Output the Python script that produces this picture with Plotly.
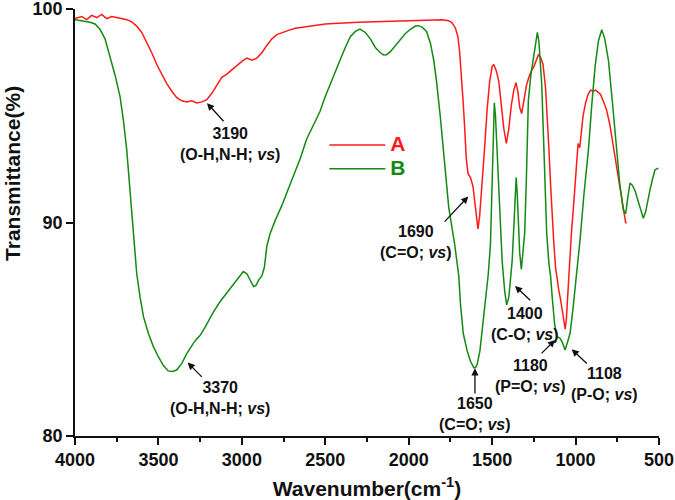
import plotly.graph_objects as go

# ---------------- data ----------------
wavenumber_A = [4000, 3960, 3930, 3900, 3870, 3840, 3810, 3780, 3750, 3720, 3690, 3660, 3630, 3600,
                3570, 3540, 3510, 3480, 3450, 3420, 3390, 3360, 3330, 3300, 3270, 3240, 3210, 3180,
                3150, 3120, 3090, 3060, 3030, 3000, 2970, 2940, 2910, 2880, 2850, 2820, 2790, 2760,
                2720, 2680, 2640, 2600, 2550, 2500, 2450, 2400, 2300, 2200, 2100, 2000, 1900, 1800,
                1760, 1740, 1720, 1705, 1695, 1685, 1675, 1665, 1655, 1645, 1630, 1615, 1600, 1585,
                1575, 1560, 1545, 1530, 1515, 1500, 1490, 1475, 1460, 1445, 1430, 1415, 1400, 1385,
                1370, 1357, 1345, 1335, 1323, 1310, 1295, 1280, 1265, 1250, 1235, 1223, 1210, 1195,
                1180, 1170, 1160, 1150, 1140, 1130, 1120, 1110, 1100, 1090, 1080, 1070, 1062, 1055,
                1045, 1035, 1025, 1010, 995, 985, 975, 968, 955, 940, 925, 910, 895, 880, 865, 850,
                835, 815, 795, 775, 755, 735, 720, 710, 700, 694]
transmittance_A = [99.55, 99.65, 99.5, 99.7, 99.6, 99.75, 99.55, 99.65, 99.6, 99.55, 99.5, 99.4, 99.2, 98.9,
                   98.45, 97.95, 97.4, 96.95, 96.5, 96.15, 95.85, 95.7, 95.65, 95.7, 95.6, 95.65, 95.75, 96.05,
                   96.45, 96.8, 96.95, 97.15, 97.35, 97.55, 97.7, 97.6, 97.7, 97.95, 98.3, 98.6, 98.8, 98.9,
                   99.0, 99.1, 99.15, 99.2, 99.25, 99.3, 99.32, 99.35, 99.38, 99.4, 99.42, 99.45, 99.48, 99.5,
                   99.45, 99.35, 99.1, 98.7, 98.0, 97.0, 95.8, 94.5, 93.0, 92.3, 92.1, 91.7, 90.6, 89.7,
                   90.3, 91.8, 93.5, 95.3, 96.6, 97.3, 97.4, 97.1, 96.6, 95.5, 94.4, 93.7, 94.4, 95.5,
                   96.2, 96.55, 96.1, 95.4, 95.1, 95.7, 96.4, 96.8, 97.1, 97.3, 97.6, 97.85, 97.75, 97.4,
                   96.3, 95.0, 93.5, 91.8, 90.2, 89.0, 87.9, 87.2, 86.8, 86.4, 85.9, 85.2, 85.0, 85.5,
                   87.0, 88.6, 89.5, 91.0, 92.6, 93.7, 93.5, 94.0, 95.0, 95.6, 96.0, 96.2, 96.15, 96.2, 96.1, 96.0,
                   95.7, 95.3, 94.6, 93.6, 92.6, 91.7, 90.9, 90.4, 90.0, 89.97]

wavenumber_B = [4000, 3950, 3910, 3880, 3850, 3820, 3790, 3760, 3730, 3710, 3690, 3675, 3660, 3645,
                3630, 3610, 3590, 3560, 3531, 3500, 3470, 3441, 3415, 3391, 3360, 3331, 3311, 3290,
                3270, 3251, 3220, 3190, 3171, 3130, 3091, 3050, 3020, 2991, 2970, 2950, 2930, 2915,
                2900, 2880, 2865, 2850, 2830, 2800, 2760, 2720, 2690, 2650, 2612, 2570, 2532, 2500,
                2470, 2440, 2412, 2380, 2350, 2320, 2292, 2260, 2230, 2200, 2170, 2150, 2132, 2110,
                2080, 2052, 2020, 1990, 1960, 1943, 1920, 1893, 1870, 1850, 1833, 1810, 1783, 1760,
                1725, 1700, 1690, 1673, 1650, 1630, 1610, 1600, 1590, 1573, 1555, 1540, 1523, 1510,
                1500, 1492, 1487, 1480, 1470, 1460, 1450, 1440, 1425, 1413, 1400, 1390, 1380, 1370,
                1362, 1356, 1350, 1343, 1335, 1325, 1315, 1305, 1295, 1283, 1268, 1253, 1240, 1229,
                1220, 1210, 1203, 1190, 1180, 1173, 1160, 1150, 1140, 1125, 1113, 1100, 1093, 1080,
                1063, 1048, 1033, 1015, 993, 973, 950, 923, 903, 883, 863, 843, 825, 803, 780, 754,
                735, 714, 700, 690, 674, 660, 644, 625, 610, 594, 580, 565, 554, 540, 524, 504]
transmittance_B = [99.5, 99.45, 99.38, 99.3, 99.05, 98.6, 97.8, 96.9, 95.9, 94.8, 93.4, 91.9, 90.3, 88.8,
                   87.6, 86.5, 85.6, 84.8, 84.2, 83.7, 83.3, 83.05, 83.02, 83.09, 83.4, 83.85, 84.12, 84.35,
                   84.55, 84.7, 85.1, 85.55, 85.8, 86.3, 86.7, 87.1, 87.45, 87.7, 87.6, 87.3, 87.0, 87.05,
                   87.3, 87.5, 87.9, 88.9, 89.5, 90.1, 90.8, 91.6, 92.2, 93.0, 93.9, 94.6, 95.2, 95.9,
                   96.5, 97.1, 97.6, 98.2, 98.7, 98.95, 99.06, 98.9, 98.6, 98.2, 97.95, 97.85, 97.86, 98.0,
                   98.3, 98.56, 98.85, 99.05, 99.2, 99.22, 99.15, 98.95, 98.4, 97.6, 96.6, 94.9, 92.6, 90.7,
                   89.0, 87.5, 86.2, 84.8, 84.0, 83.5, 83.2, 83.2, 83.35, 84.0, 85.3, 86.5, 87.6, 89.0,
                   91.5, 94.0, 95.6, 95.0, 93.2, 91.3, 89.5, 88.2, 86.8, 86.14, 86.5, 87.2, 88.2, 89.8,
                   91.5, 92.1, 91.4, 90.0, 88.6, 87.8, 88.5, 89.5, 92.0, 95.7, 96.9, 97.6, 98.4, 98.9,
                   98.5, 97.4, 96.5, 93.5, 90.5, 89.5, 88.1, 87.5, 86.5, 85.2, 84.66, 84.6, 84.58, 84.4,
                   84.03, 84.4, 84.81, 86.0, 87.6, 89.2, 91.3, 93.4, 95.5, 97.3, 98.5, 99.03, 98.6, 97.6, 95.7, 93.4,
                   91.8, 90.6, 90.4, 91.0, 91.85, 91.75, 91.5, 91.0, 90.6, 90.2, 90.5, 91.2, 91.53, 92.0, 92.47, 92.55]

series_names = ["A", "B"]
x_tick_values = [4000, 3500, 3000, 2500, 2000, 1500, 1000, 500]
y_tick_values = [80, 90, 100]

peak_labels = ["3190<br>(O-H,N-H; <i>vs</i>)",
               "3370<br>(O-H,N-H; <i>vs</i>)",
               "1690<br>(C=O; <i>vs</i>)",
               "1400<br>(C-O; <i>vs</i>)",
               "1650<br>(C=O; <i>vs</i>)",
               "1180<br>(P=O; <i>vs</i>)",
               "1108<br>(P-O; <i>vs</i>)"]

# ---------------- layout helpers (positions of labels/arrows in data units) ----------------
label_pos = [(3071, 93.69), (3131, 81.80), (1956, 89.07), (1303, 85.25),
             (1603, 81.03), (1273, 82.81), (824, 82.44)]
arrow_head = [(3209, 95.59), (3325, 83.44), (1643, 91.22), (1363, 87.03),
              (1603, 83.17), (1123, 84.50), (1023, 84.06)]
arrow_tail = [(3101, 94.67), (3231, 82.70), (1793, 89.97), (1263, 86.29),
              (1603, 81.92), (1213, 83.80), (924, 83.33)]

FONT = "Liberation Sans, Arial, sans-serif"
RED = "#FF1A1A"
GREEN = "#138A13"

fig = go.Figure()
fig.add_trace(go.Scatter(x=wavenumber_A, y=transmittance_A, mode="lines",
                         name=f"<span style='color:{RED};font-size:21px'>{series_names[0]}</span>",
                         line=dict(color=RED, width=1.5)))
fig.add_trace(go.Scatter(x=wavenumber_B, y=transmittance_B, mode="lines",
                         name=f"<span style='color:{GREEN};font-size:21px'>{series_names[1]}</span>",
                         line=dict(color=GREEN, width=1.5)))

annotations = []
for txt, (lx, ly) in zip(peak_labels, label_pos):
    annotations.append(dict(x=lx, y=ly, xref="x", yref="y", text=txt, showarrow=False,
                            xanchor="center", yanchor="middle",
                            font=dict(family=FONT, size=16, color="#111", weight="bold")))
for (hx, hy), (tx, ty) in zip(arrow_head, arrow_tail):
    annotations.append(dict(x=hx, y=hy, ax=tx, ay=ty, xref="x", yref="y", axref="x", ayref="y",
                            text="", showarrow=True, arrowhead=2, arrowsize=1.1, arrowwidth=1.3,
                            arrowcolor="#111", standoff=0, startstandoff=0))
# y-axis title (placed as in the reference)
annotations.append(dict(x=-0.106, y=0.614, xref="paper", yref="paper", text="Transmittance(%)",
                        textangle=-90, showarrow=False, xanchor="center", yanchor="middle",
                        font=dict(family=FONT, size=21, color="#111", weight="bold")))

fig.update_layout(
    width=675, height=500,
    margin=dict(l=75, r=16, t=9, b=64),
    paper_bgcolor="white", plot_bgcolor="white",
    showlegend=True,
    legend=dict(x=0.427, y=0.721, xanchor="left", yanchor="top", bgcolor="rgba(0,0,0,0)",
                font=dict(family=FONT, size=16, weight="bold"), itemwidth=56,
                tracegroupgap=0),
    annotations=annotations,
    xaxis=dict(range=[4000, 500], tickmode="array", tickvals=x_tick_values, automargin=False,
               ticks="outside", ticklen=7, tickwidth=1.5, tickcolor="#111",
               showline=True, linewidth=1.5, linecolor="#111", showgrid=False, zeroline=False,
               ticklabeloverflow="allow",
               minor=dict(ticks="outside", ticklen=4, tickwidth=1.5, tickcolor="#111",
                          tickmode="linear", tick0=500, dtick=250, showgrid=False),
               tickfont=dict(family=FONT, size=18, color="#111", weight="bold"),
               title=dict(text="Wavenumber(cm<sup>-1</sup>)", standoff=18,
                          font=dict(family=FONT, size=21, color="#111", weight="bold"))),
    yaxis=dict(range=[80, 100], tickmode="array", tickvals=y_tick_values, automargin=False,
               ticks="outside", ticklen=7, tickwidth=1.5, tickcolor="#111",
               showline=True, linewidth=1.5, linecolor="#111", showgrid=False, zeroline=False,
               ticklabeloverflow="allow",
               tickfont=dict(family=FONT, size=18, color="#111", weight="bold")),
)

fig.write_html("out.html", config={"displayModeBar": False},
               post_script="document.body.style.margin='0px';")
